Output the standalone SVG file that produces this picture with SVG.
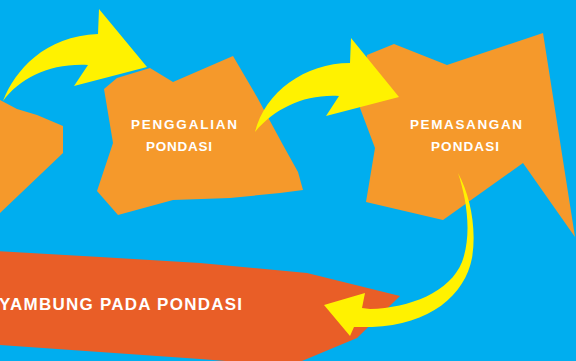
<svg xmlns="http://www.w3.org/2000/svg" width="576" height="361" viewBox="0 0 576 361">
  <style>
    .step { fill: #F5992B; }
    .final { fill: #E95E27; }
    .arrow { fill: #FFF200; }
    .label { fill: #FFFFFF; font-family: "Liberation Sans", Arial, sans-serif; font-weight: bold; text-anchor: start; }
  </style>
  <rect x="0" y="0" width="576" height="361" fill="#00AEEF"/>

  <g id="node-previous">
    <polygon class="step" points="-5,98 0,100 17,109 37,115 63,126 63,153 0,213 -5,215"/>
  </g>

  <g id="node-penggalian">
    <polygon class="step" points="104,89 117,78 150,68 173,82 233,56 257,97 283,145 298,172 303,190 280,193 230,198 173,200 118,215 97,191 113,143"/>
    <text class="label" x="131" y="129" font-size="13.5" textLength="106" lengthAdjust="spacing">PENGGALIAN</text>
    <text class="label" x="146" y="151" font-size="13.5" textLength="66" lengthAdjust="spacing">PONDASI</text>
  </g>

  <g id="node-pemasangan">
    <polygon class="step" points="367,55 394,44 447,65 543,33 575,237 523,163 443,220 366,202 375,148 360,108"/>
    <text class="label" x="410" y="129" font-size="13.5" textLength="112" lengthAdjust="spacing">PEMASANGAN</text>
    <text class="label" x="431" y="151" font-size="13.5" textLength="68" lengthAdjust="spacing">PONDASI</text>
  </g>

  <g id="node-penyambung">
    <polygon class="final" points="-5,251 100,257 200,263 307,273 400,296 357,338 290,366 200,359 0,345 -5,345"/>
    <text class="label" x="-1" y="310" font-size="17" textLength="243" lengthAdjust="spacing">YAMBUNG PADA PONDASI</text>
  </g>

  <g id="connectors">
    <path class="arrow" d="M3,101 C 15,70 45,36 98,34 L 99,9 L 147,67 L 74,86 L 88,65 C 50,63 20,78 3,101 Z"/>
    <path class="arrow" d="M255,132 C 265,92 305,63 350,63 L 351,38 L 399,97 L 326,116 L 339,96 C 305,94 275,108 255,132 Z"/>
    <path class="arrow" d="M458,173 C 470,195 477,228 472,258 C 465,295 430,325 372,327 L 354,327 L 350,336 L 324,305 L 365,293 L 362,308 L 370,309 C 410,308 450,292 462,262 C 472,235 467,200 458,173 Z"/>
  </g>
</svg>
